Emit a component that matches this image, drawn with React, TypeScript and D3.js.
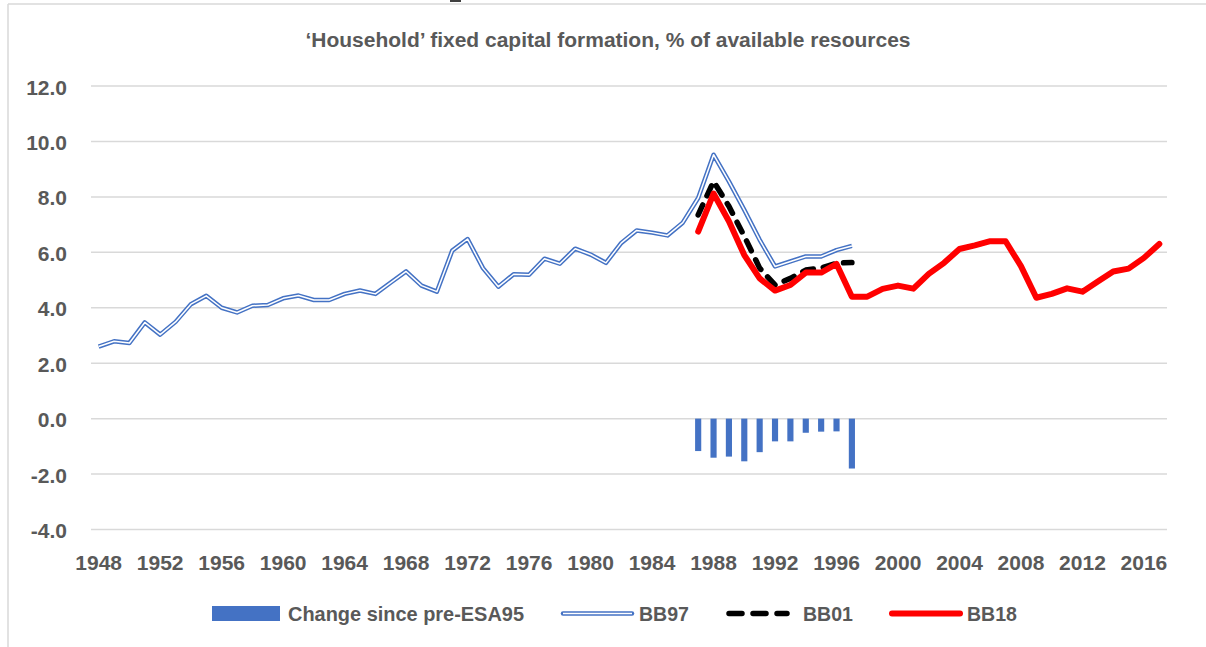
import React from "react";
import * as d3 from "d3";

const years: number[] = d3.range(1948, 2018);
const xTickYears: number[] = d3.range(1948, 2018, 4);
const yTicks: number[] = [-4, -2, 0, 2, 4, 6, 8, 10, 12];

const bb97Years: number[] = d3.range(1948, 1998);
const bb97: number[] = [
  2.6, 2.79, 2.73, 3.47, 3.03, 3.49, 4.13, 4.43, 4.0, 3.83,
  4.07, 4.1, 4.34, 4.44, 4.28, 4.28, 4.5, 4.62, 4.5, 4.91,
  5.31, 4.8, 4.58, 6.06, 6.48, 5.43, 4.76, 5.21, 5.19, 5.77,
  5.59, 6.13, 5.92, 5.62, 6.34, 6.79, 6.71, 6.61, 7.07, 7.96,
  9.52, 8.56, 7.53, 6.45, 5.49, 5.67, 5.85, 5.85, 6.08, 6.23,
];

const bb01Years: number[] = d3.range(1987, 1998);
const bb01: number[] = [7.35, 8.56, 7.66, 6.58, 5.43, 4.82, 5.06, 5.36, 5.43, 5.61, 5.63];

const bb18Years: number[] = d3.range(1987, 2018);
const bb18: number[] = [
  6.75, 8.12, 7.12, 5.9, 5.06, 4.62, 4.82, 5.27, 5.27, 5.58,
  4.4, 4.4, 4.68, 4.8, 4.69, 5.22, 5.62, 6.12, 6.25, 6.4,
  6.4, 5.5, 4.36, 4.5, 4.7, 4.58, 4.95, 5.31, 5.41, 5.8, 6.3,
];

const changeYears: number[] = d3.range(1987, 1998);
const change: number[] = [-1.17, -1.41, -1.37, -1.54, -1.21, -0.82, -0.82, -0.51, -0.47, -0.46, -1.8];

const W = 1206;
const H = 647;
const TEXT = "#595959";
const GRID = "#d9d9d9";
const BLUE = "#4472C4";
const FONT = "'Liberation Sans', Arial, sans-serif";

export default function App() {
  const x = d3.scaleBand<number>().domain(years).range([91, 1167]).padding(0);
  const cx = (yr: number) => (x(yr) as number) + x.bandwidth() / 2;
  const y = d3.scaleLinear().domain([-4, 12]).range([529.5, 86]);

  const line = d3
    .line<[number, number]>()
    .x((d) => cx(d[0]))
    .y((d) => y(d[1]));

  const p97 = line(bb97Years.map((yr, i) => [yr, bb97[i]]) as [number, number][]) || "";
  const p01 = line(bb01Years.map((yr, i) => [yr, bb01[i]]) as [number, number][]) || "";
  const p18 = line(bb18Years.map((yr, i) => [yr, bb18[i]]) as [number, number][]) || "";

  const barW = x.bandwidth() * 0.4;

  return (
    <svg
      width={W}
      height={H}
      style={{ position: "absolute", left: 0, top: 0, background: "#fff" }}
      fontFamily={FONT}
    >
      <rect x={0} y={0} width={W} height={H} fill="#fff" />
      {/* frame */}
      <line x1={8} y1={4} x2={W} y2={4} stroke={GRID} strokeWidth={1.5} />
      <line x1={8} y1={4} x2={8} y2={H} stroke={GRID} strokeWidth={1.5} />
      <rect x={450} y={0} width={11} height={2} fill="#404040" />

      {/* title */}
      <text
        x={608}
        y={47}
        textAnchor="middle"
        fontSize={19.5}
        fontWeight="bold"
        fill={TEXT}
        textLength={605}
        lengthAdjust="spacingAndGlyphs"
      >
        ‘Household’ fixed capital formation, % of available resources
      </text>

      {/* gridlines */}
      {yTicks.map((t) => (
        <line key={t} x1={91} x2={1167} y1={y(t)} y2={y(t)} stroke={GRID} strokeWidth={1.5} />
      ))}

      {/* y labels */}
      {yTicks.map((t) => (
        <text
          key={"yl" + t}
          x={67}
          y={y(t) + 8.5}
          textAnchor="end"
          fontSize={21}
          fontWeight="bold"
          fill={TEXT}
        >
          {t.toFixed(1)}
        </text>
      ))}

      {/* x labels */}
      {xTickYears.map((yr) => (
        <text
          key={"xl" + yr}
          x={cx(yr)}
          y={570}
          textAnchor="middle"
          fontSize={21}
          fontWeight="bold"
          fill={TEXT}
        >
          {yr}
        </text>
      ))}

      {/* bars */}
      {changeYears.map((yr, i) => (
        <rect
          key={"b" + yr}
          x={cx(yr) - barW / 2}
          width={barW}
          y={y(Math.max(0, change[i]))}
          height={Math.abs(y(change[i]) - y(0))}
          fill={BLUE}
        />
      ))}

      {/* BB97 double line */}
      <path d={p97} fill="none" stroke={BLUE} strokeWidth={4.5} strokeLinejoin="round" />
      <path d={p97} fill="none" stroke="#fff" strokeWidth={1.5} strokeLinejoin="round" />

      {/* BB01 dashed */}
      <path
        d={p01}
        fill="none"
        stroke="#000"
        strokeWidth={5.5}
        strokeDasharray="11,10"
        strokeLinecap="round"
        strokeLinejoin="round"
      />

      {/* BB18 */}
      <path d={p18} fill="none" stroke="#ff0000" strokeWidth={6} strokeLinecap="round" strokeLinejoin="round" />

      {/* legend */}
      <rect x={212} y={606} width={68} height={15} fill={BLUE} />
      <text x={288} y={621} fontSize={21} fontWeight="bold" fill={TEXT} textLength={236} lengthAdjust="spacingAndGlyphs">
        Change since pre-ESA95
      </text>

      <line x1={563} x2={632} y1={613.5} y2={613.5} stroke={BLUE} strokeWidth={4.5} strokeLinecap="round" />
      <line x1={563} x2={632} y1={613.5} y2={613.5} stroke="#fff" strokeWidth={1.5} />
      <text x={639} y={621} fontSize={21} fontWeight="bold" fill={TEXT} textLength={50} lengthAdjust="spacingAndGlyphs">
        BB97
      </text>

      <line
        x1={729}
        x2={787}
        y1={613.5}
        y2={613.5}
        stroke="#000"
        strokeWidth={5.5}
        strokeDasharray="13,11"
        strokeLinecap="round"
      />
      <text x={803} y={621} fontSize={21} fontWeight="bold" fill={TEXT} textLength={50} lengthAdjust="spacingAndGlyphs">
        BB01
      </text>

      <line x1={892} x2={960} y1={613.5} y2={613.5} stroke="#ff0000" strokeWidth={6} strokeLinecap="round" />
      <text x={967} y={621} fontSize={21} fontWeight="bold" fill={TEXT} textLength={50} lengthAdjust="spacingAndGlyphs">
        BB18
      </text>
    </svg>
  );
}
